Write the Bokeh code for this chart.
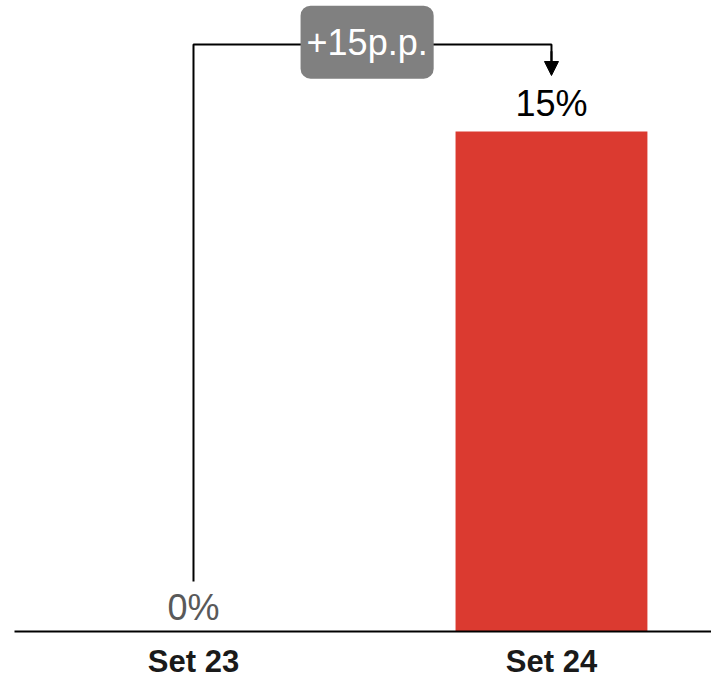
from bokeh.plotting import figure
from bokeh.models import ColumnDataSource, FixedTicker, Arrow, NormalHead, Range1d
from bokeh.core.properties import value
from bokeh.embed import file_html
from bokeh.resources import INLINE

# data
categories = ["Set 23", "Set 24"]
values = [0, 15]
diff_label = "+15p.p."

FONT = "Liberation Sans"
BAR_COLOR = "#DB3A30"

xs = list(range(len(categories)))
labels = [f"{v:.0f}%" for v in values]
label_colors = ["#595959" if v == 0 else "#000000" for v in values]
label_y = [v + (0.84 if v > 0 else 0.72) for v in values]
src = ColumnDataSource(dict(x=xs, top=values, label=labels, color=label_colors, ly=label_y))

p = figure(width=711, height=681, output_backend="svg", toolbar_location=None,
           x_range=Range1d(-0.5, 1.447), y_range=Range1d(0, 18.93),
           min_border_left=14, min_border_right=0, min_border_top=0, min_border_bottom=40)
p.outline_line_color = None
p.grid.visible = False
p.yaxis.visible = False
p.background_fill_color = "white"

p.vbar(x="x", top="top", width=0.536, bottom=0, source=src,
       fill_color=BAR_COLOR, line_color=None)

p.text(x="x", y="ly", text="label", source=src, text_color="color",
       text_font=value(FONT), text_font_size="36px", text_align="center",
       text_baseline="alphabetic")

# bracket
bracket_y = 17.61
bracket_bottom = 1.5
tip_y = 16.68
p.line(x=[xs[0], xs[0], xs[1], xs[1]], y=[bracket_bottom, bracket_y, bracket_y, tip_y + 0.3],
       line_color="black", line_width=2)
p.add_layout(Arrow(end=NormalHead(size=14, fill_color="black", line_color="black"),
                   x_start=xs[1], y_start=bracket_y - 0.2, x_end=xs[1], y_end=tip_y,
                   line_color="black", line_width=2))

p.text(x=[(xs[0] + xs[1]) / 2 - 0.015], y=[bracket_y + 0.07], text=[diff_label],
       text_color="white", text_font=value(FONT), text_font_size="36px",
       text_align="center", text_baseline="middle",
       background_fill_color="#808080", border_radius=10, padding=(6, 16))

xa = p.xaxis[0]
xa.ticker = FixedTicker(ticks=xs)
xa.major_label_overrides = {i: c for i, c in zip(xs, categories)}
xa.major_tick_line_color = None
xa.minor_tick_line_color = None
xa.axis_line_color = "black"
xa.axis_line_width = 2
xa.major_label_text_font = FONT
xa.major_label_text_font_size = "31px"
xa.major_label_text_font_style = "bold"
xa.major_label_text_color = "#1a1a1a"
xa.major_label_standoff = 6

open("out.html", "w").write(file_html(p, INLINE))
